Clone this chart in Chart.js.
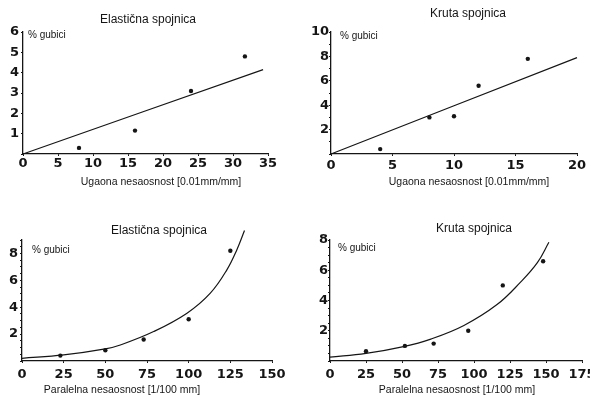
<!DOCTYPE html>
<html>
<head>
<meta charset="utf-8">
<script src="https://cdn.jsdelivr.net/npm/chart.js@4.4.1/dist/chart.umd.min.js"></script>
<style>
  html, body { margin: 0; padding: 0; background: #fff; }
  #wrap { position: relative; width: 590px; height: 396px; }
  canvas { position: absolute; }
</style>
</head>
<body>
<div id="wrap">
  <canvas id="c1" width="295" height="200" style="left:0;top:0"></canvas>
  <canvas id="c2" width="295" height="200" style="left:295px;top:0"></canvas>
  <canvas id="c3" width="295" height="196" style="left:0;top:200px"></canvas>
  <canvas id="c4" width="295" height="196" style="left:295px;top:200px"></canvas>
</div>
<script>
// values (% losses vs misalignment)
// angular misalignment, elastic coupling
const angElasticX = [8, 16, 24, 31.7];
const angElasticY = [0.3, 1.15, 3.1, 4.8];
const angElasticFitX = [0, 34.3];
const angElasticFitY = [0, 4.15];
// angular misalignment, rigid coupling
const angRigidX = [4, 8, 10, 12, 16];
const angRigidY = [0.4, 3.0, 3.1, 5.6, 7.8];
const angRigidFitX = [0, 20];
const angRigidFitY = [0, 7.9];
// parallel misalignment, elastic coupling
const parElasticX = [23, 50, 73, 100, 125];
const parElasticY = [0.4, 0.8, 1.6, 3.1, 8.2];
const parElasticFitX = [0, 25, 50, 59, 79, 99, 113, 123, 129, 133.5];
const parElasticFitY = [0.2, 0.45, 0.9, 1.19, 2.19, 3.56, 5.05, 6.8, 8.3, 9.7];
// parallel misalignment, rigid coupling
const parRigidX = [25, 52, 72, 96, 120, 148];
const parRigidY = [0.65, 1.0, 1.15, 2.0, 5.0, 6.6];
const parRigidFitX = [0, 25, 51, 70, 93, 116, 132, 144, 152];
const parRigidFitY = [0.25, 0.5, 0.95, 1.45, 2.35, 3.73, 5.18, 6.5, 7.85];

const titleElastic = 'Elastična spojnica';
const titleRigid = 'Kruta spojnica';
const xTitleAng = 'Ugaona nesaosnost [0.01mm/mm]';
const xTitlePar = 'Paralelna nesaosnost [1/100 mm]';
const yUnit = '% gubici';

const ink = '#151515';
const sans = '"Liberation Sans", Arial, sans-serif';

const pts = (xs, ys) => xs.map((x, i) => ({ x: x, y: ys[i] }));

// titles and captions sit off-centre in the scan, so draw them here
const captions = {
  id: 'captions',
  afterDraw(chart, args, o) {
    const ctx = chart.ctx, a = chart.chartArea;
    ctx.save();
    ctx.fillStyle = ink;
    ctx.textBaseline = 'middle';
    ctx.textAlign = 'center';
    ctx.font = '12px ' + sans;
    ctx.fillText(o.title, o.titleAt[0], o.titleAt[1]);
    ctx.font = '10.5px ' + sans;
    ctx.fillText(o.xTitle, o.xTitleAt[0], o.xTitleAt[1]);
    ctx.textAlign = 'left';
    ctx.font = '10px ' + sans;
    ctx.fillText(yUnit, a.left + o.unitAt[0], a.top + o.unitAt[1]);
    ctx.restore();
  }
};

function makeChart(id, c) {
  return new Chart(document.getElementById(id), {
    type: 'scatter',
    data: {
      datasets: [
        { data: pts(c.px, c.py), pointRadius: 2.2, pointBackgroundColor: ink, pointBorderWidth: 0 },
        { data: pts(c.fx, c.fy), showLine: true, pointRadius: 0, borderColor: ink, borderWidth: 1.2,
          tension: 0.4, clip: false }
      ]
    },
    options: {
      responsive: false,
      animation: false,
      layout: { padding: { left: 0, top: c.top, right: c.right, bottom: 0 } },
      plugins: {
        legend: { display: false },
        tooltip: { enabled: false },
        captions: { title: c.title, titleAt: c.titleAt, xTitle: c.xTitle, xTitleAt: c.xTitleAt, unitAt: c.unitAt }
      },
      scales: {
        x: {
          min: 0, max: c.xMax,
          afterFit: s => { s.height = c.xH; s.paddingLeft = 0; s.paddingRight = 0; },
          border: { display: true, color: ink, width: 1.2 },
          grid: { drawOnChartArea: false, drawTicks: true, tickLength: 2, color: ink },
          ticks: { stepSize: c.xStep, padding: c.xPad, color: ink, autoSkip: false, maxRotation: 0,
                   font: { family: '"DejaVu Sans"', weight: 'bold', size: 13 } }
        },
        y: {
          min: 0, max: c.yMax,
          afterFit: s => { s.width = c.yW; s.paddingTop = 0; s.paddingBottom = 0; },
          border: { display: true, color: ink, width: 1.3 },
          grid: { drawOnChartArea: false, drawTicks: true, tickLength: 2, color: ink },
          ticks: { stepSize: c.yStep, padding: c.yPad, color: ink, autoSkip: false,
                   font: { family: '"DejaVu Sans"', weight: 'bold', size: 13 },
                   callback: v => (v > 0 && v % c.yLabelEvery === 0) ? String(v) : '' }
        }
      }
    },
    plugins: [captions]
  });
}

makeChart('c1', {
  px: angElasticX, py: angElasticY, fx: angElasticFitX, fy: angElasticFitY,
  xMax: 35, xStep: 5, yMax: 6, yStep: 1, yLabelEvery: 1,
  top: 32, right: 27, yW: 23, xH: 46, xPad: 0, yPad: 2,
  title: titleElastic, titleAt: [148, 20], xTitle: xTitleAng, xTitleAt: [161, 182], unitAt: [5, 3]
});
makeChart('c2', {
  px: angRigidX, py: angRigidY, fx: angRigidFitX, fy: angRigidFitY,
  xMax: 20, xStep: 5, yMax: 10, yStep: 1, yLabelEvery: 2,
  top: 32, right: 13, yW: 36, xH: 46, xPad: 2, yPad: 0,
  title: titleRigid, titleAt: [173, 14], xTitle: xTitleAng, xTitleAt: [174, 182], unitAt: [9, 4]
});
makeChart('c3', {
  px: parElasticX, py: parElasticY, fx: parElasticFitX, fy: parElasticFitY,
  xMax: 150, xStep: 25, yMax: 9, yStep: 0.5, yLabelEvery: 2,
  top: 40, right: 23, yW: 22, xH: 35, xPad: 4, yPad: 2,
  title: titleElastic, titleAt: [159, 31], xTitle: xTitlePar, xTitleAt: [122, 190], unitAt: [10, 10]
});
makeChart('c4', {
  px: parRigidX, py: parRigidY, fx: parRigidFitX, fy: parRigidFitY,
  xMax: 175, xStep: 25, yMax: 8, yStep: 0.5, yLabelEvery: 2,
  top: 40, right: 8, yW: 35, xH: 35, xPad: 4, yPad: 0,
  title: titleRigid, titleAt: [179, 29], xTitle: xTitlePar, xTitleAt: [162, 190], unitAt: [8, 8]
});
</script>
</body>
</html>
